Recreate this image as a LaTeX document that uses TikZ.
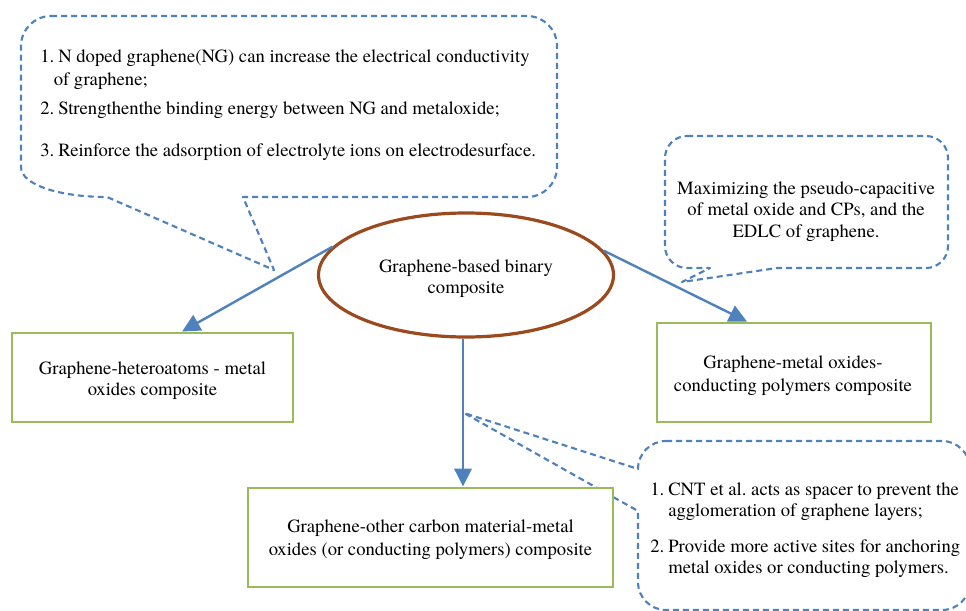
\documentclass[tikz,border=0pt]{standalone}
\usepackage{fontspec}
\setmainfont{TeX Gyre Termes}
\usetikzlibrary{arrows.meta,calc,shapes.geometric}
\definecolor{cblue}{HTML}{4F81BD}
\definecolor{cgreen}{HTML}{9BBB59}
\definecolor{cbrown}{HTML}{9A4A1E}
\begin{document}
\begin{tikzpicture}[x=0.75pt,y=-0.75pt,
  every node/.style={font=\fontsize{14}{16}\selectfont},
  txt/.style={inner sep=0pt,anchor=base},
  ltxt/.style={inner sep=0pt,anchor=base west},
  callout/.style={draw=cblue,line width=1.6pt,dash pattern=on 4.5pt off 3pt,line join=round},
  arr/.style={draw=cblue,line width=1.8pt,-{Triangle[width=13pt,length=13.5pt]}},
  box/.style={draw=cgreen,line width=2.2pt,fill=white,rectangle,inner sep=0pt},
  ell/.style={draw=cbrown,line width=2.4pt,fill=white,ellipse,inner sep=0pt,
    minimum width=295*0.75pt,minimum height=124*0.75pt}]
\useasboundingbox (0,0) rectangle (966,610);
\clip (0,0) rectangle (966,610);

% tail tips of the callouts
\coordinate (tip1) at (274,270);
\coordinate (tip2) at (682,282);
\coordinate (tip3) at (464,413);

% callout 1
\draw[callout] (51,16) -- (527,16) arc[start angle=90,end angle=0,radius=22.5pt]
  -- (557,167) arc[start angle=0,end angle=-90,radius=22.5pt]
  -- (243,197) -- (tip1) -- (107,197)
  .. controls (60,197) and (21,185) .. (21,167)
  -- (21,46) arc[start angle=180,end angle=90,radius=22.5pt] -- cycle;
% callout 2
\draw[callout] (687,136) -- (926,136) arc[start angle=90,end angle=0,radius=16.5pt]
  -- (948,246) arc[start angle=0,end angle=-90,radius=16.5pt]
  -- (777,268) -- (tip2) -- (710,268) -- (687,268)
  arc[start angle=270,end angle=180,radius=16.5pt]
  -- (665,158) arc[start angle=180,end angle=90,radius=16.5pt] -- cycle;
% callout 3
\draw[callout] (666,441) -- (942,441) arc[start angle=90,end angle=0,radius=21pt]
  -- (970,582) arc[start angle=0,end angle=-90,radius=21pt]
  -- (666,610) arc[start angle=270,end angle=180,radius=21pt]
  -- (638,511) -- (tip3) -- (638,469)
  arc[start angle=180,end angle=90,radius=21pt] -- cycle;

% main shapes
\node[ell] (e) at (466,275) {};
\node[box,minimum width=281*0.75pt,minimum height=89*0.75pt] (b1) at (152.5,377.5) {};
\node[box,minimum width=274*0.75pt,minimum height=99*0.75pt] (b2) at (794,372.5) {};
\node[box,minimum width=365*0.75pt,minimum height=99*0.75pt] (b3) at (430.5,537.5) {};

% connectors
\coordinate (a1) at ($(b1.north)+(29.5,0)$);
\coordinate (a2) at ($(b2.north)+(-47,0)$);
\coordinate (a3) at ($(b3.north)+(32.5,0)$);
\draw[arr] (e.168.6) -- (a1);
\draw[arr] (e.10.8) -- (a2);
\draw[arr] (e.south -| a3) -- (a3);

% texts of shapes
\node[txt] (e1) at (466,272) {Graphene-based binary};
\node[txt] (e2) at (466,293) {composite};
\node[txt] (t11) at (152.5,374) {Graphene-heteroatoms - metal};
\node[txt] (t12) at (152.5,395) {oxides composite};
\node[txt] (t21) at (793,368) {Graphene-metal oxides-};
\node[txt] (t22) at (793,391) {conducting polymers composite};
\node[txt] (t31) at (430.5,532) {Graphene-other carbon material-metal};
\node[txt] (t32) at (430.5,555) {oxides (or conducting polymers) composite};

% texts of callout 1
\node[ltxt] (c11) at (40,63) {\makebox[13.5pt][l]{1.}N doped graphene(NG) can increase the electrical conductivity};
\node[ltxt] (c12) at (53.5,85) {of graphene;};
\node[ltxt] (c13) at (40,114) {\makebox[13.5pt][l]{2.}Strengthenthe binding energy between NG and metaloxide;};
\node[ltxt] (c14) at (40,156) {\makebox[13.5pt][l]{3.}Reinforce the adsorption of electrolyte ions on electrodesurface.};

% texts of callout 2
\node[txt] (c21) at (806,194) {Maximizing the pseudo-capacitive};
\node[txt] (c22) at (806,215) {of metal oxide and CPs, and the};
\node[txt] (c23) at (806,237) {EDLC of graphene.};

% texts of callout 3
\node[ltxt] (c31) at (650,495) {\makebox[13.5pt][l]{1.}CNT et al.\ acts as spacer to prevent the};
\node[ltxt] (c32) at (668,516) {agglomeration of graphene layers;};
\node[ltxt] (c33) at (650,552) {\makebox[13.5pt][l]{2.}Provide more active sites for anchoring};
\node[ltxt] (c34) at (668,573) {metal oxides or conducting polymers.};
\end{tikzpicture}
\end{document}
